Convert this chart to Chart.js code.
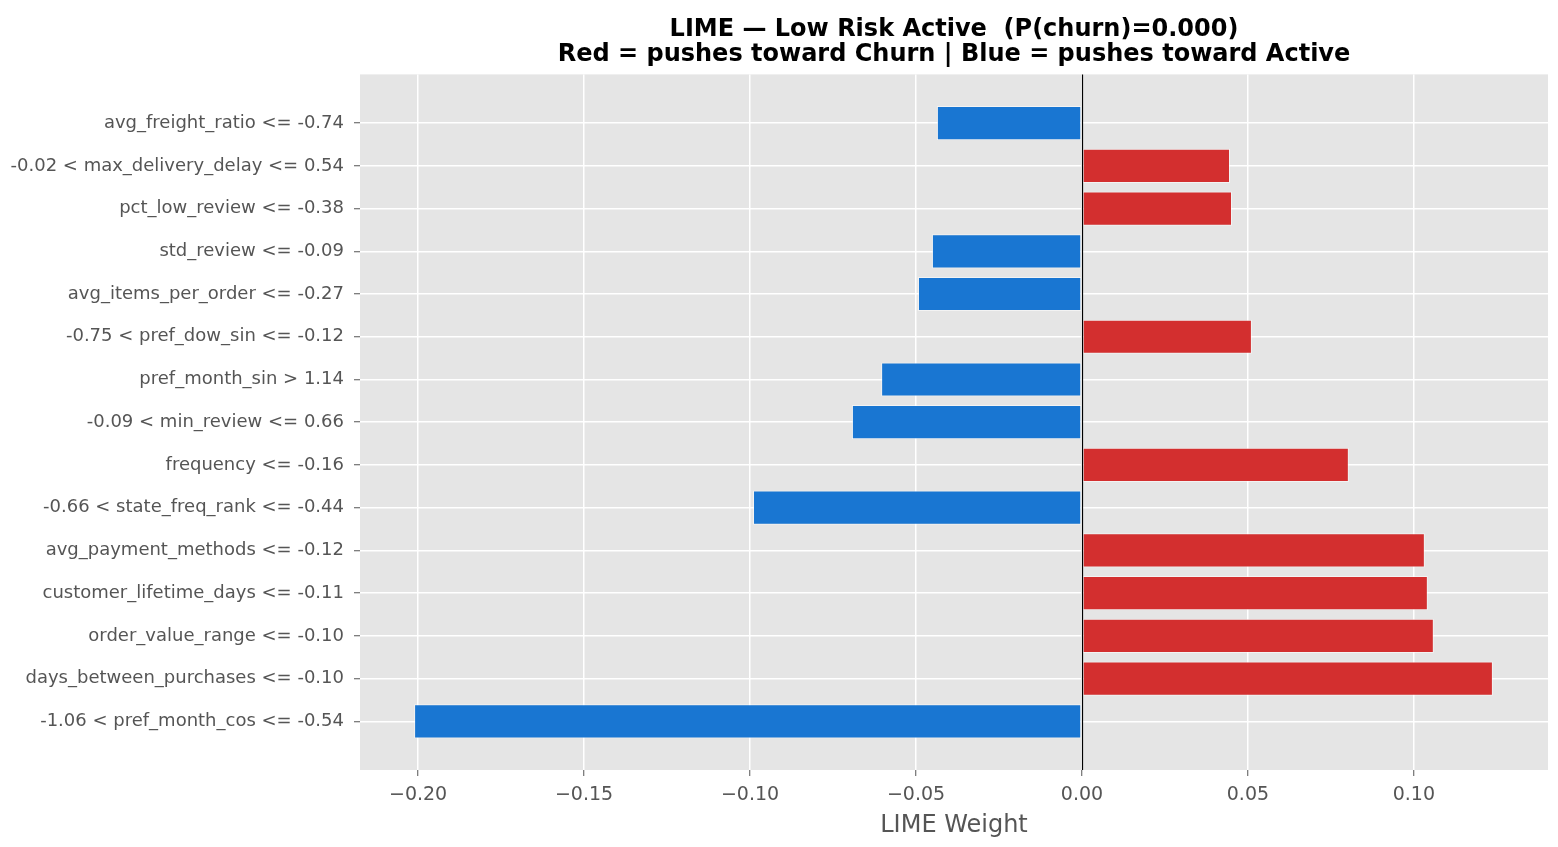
<!DOCTYPE html>
<html>
<head>
<meta charset="utf-8">
<script src="https://cdn.jsdelivr.net/npm/chart.js@4.4.1/dist/chart.umd.min.js"></script>
<style>
  html, body { margin: 0; padding: 0; background: #fff; }
  #wrap { width: 1558px; height: 847px; }
</style>
</head>
<body>
<div id="wrap"><canvas id="limeChart"></canvas></div>
<script>
/* LIME explanation — horizontal weight bars */

const features = [
    'avg_freight_ratio <= -0.74',
    '-0.02 < max_delivery_delay <= 0.54',
    'pct_low_review <= -0.38',
    'std_review <= -0.09',
    'avg_items_per_order <= -0.27',
    '-0.75 < pref_dow_sin <= -0.12',
    'pref_month_sin > 1.14',
    '-0.09 < min_review <= 0.66',
    'frequency <= -0.16',
    '-0.66 < state_freq_rank <= -0.44',
    'avg_payment_methods <= -0.12',
    'customer_lifetime_days <= -0.11',
    'order_value_range <= -0.10',
    'days_between_purchases <= -0.10',
    '-1.06 < pref_month_cos <= -0.54',
];

const weights = [
    -0.0437, 0.0446, 0.0452, -0.0452, -0.0494,
    0.0512, -0.0605, -0.0693, 0.0804, -0.0991,
    0.1033, 0.1042, 0.1060, 0.1238, -0.2012,
];

const xTicks = [-0.20, -0.15, -0.10, -0.05, 0.00, 0.05, 0.10];

const RED = '#D32F2F';
const BLUE = '#1976D2';
const FONT = "'DejaVu Sans', 'Liberation Sans', sans-serif";

const plotBg = {
    id: 'plotBg',
    beforeDraw(chart) {
        const a = chart.chartArea;
        const ctx = chart.ctx;
        ctx.save();
        ctx.fillStyle = '#E5E5E5';
        ctx.fillRect(a.left, a.top, a.right - a.left, a.bottom - a.top);
        ctx.restore();
    },
};

const zeroLine = {
    id: 'zeroLine',
    afterDatasetsDraw(chart) {
        const a = chart.chartArea;
        const x = Math.round(chart.scales.x.getPixelForValue(0)) + 0.5;
        const ctx = chart.ctx;
        ctx.save();
        ctx.strokeStyle = '#000';
        ctx.lineWidth = 1.2;
        ctx.beginPath();
        ctx.moveTo(x, a.top);
        ctx.lineTo(x, a.bottom);
        ctx.stroke();
        ctx.restore();
    },
};

new Chart(document.getElementById('limeChart'), {
    type: 'bar',
    data: {
        datasets: [{
            data: weights.map((w, i) => ({ x: w, y: i })),
            backgroundColor: weights.map(w => (w > 0 ? RED : BLUE)),
            borderColor: 'rgba(255,255,255,0.55)',
            borderWidth: 1,
            borderSkipped: false,
            barPercentage: 0.8,
            categoryPercentage: 1.0,
        }],
    },
    options: {
        indexAxis: 'y',
        responsive: true,
        maintainAspectRatio: false,
        animation: false,
        layout: { padding: { left: 0, right: 10, top: 0, bottom: 0 } },
        plugins: {
            legend: { display: false },
            tooltip: { enabled: false },
            title: {
                display: true,
                fullSize: false,
                text: ['LIME — Low Risk Active  (P(churn)=0.000)',
                       'Red = pushes toward Churn | Blue = pushes toward Active'],
                color: '#000',
                font: { family: FONT, size: 24, weight: 'bold', lineHeight: 1.05 },
                padding: { top: 17, bottom: 7 },
            },
        },
        scales: {
            x: {
                type: 'linear',
                min: -0.2175,
                max: 0.1404,
                afterBuildTicks(scale) {
                    scale.ticks = xTicks.map(v => ({ value: v }));
                },
                afterFit(scale) { scale.height = 77; },
                ticks: {
                    color: '#555555',
                    font: { family: FONT, size: 19 },
                    padding: 8,
                    callback: v => v.toFixed(2).replace('-', '\u2212'),
                },
                grid: {
                    color: '#FFFFFF',
                    lineWidth: 1.5,
                    drawTicks: true,
                    tickLength: 6,
                    tickColor: '#555555',
                    tickWidth: 1,
                },
                border: { display: false },
                title: {
                    display: true,
                    text: 'LIME Weight',
                    color: '#555555',
                    font: { family: FONT, size: 24 },
                    padding: { top: 0, bottom: 7 },
                },
            },
            y: {
                type: 'linear',
                reverse: true,
                offset: false,
                min: -1.14,
                max: features.length - 1 + 1.14,
                afterBuildTicks(scale) {
                    scale.ticks = features.map((_, i) => ({ value: i }));
                },
                afterFit(scale) { scale.width = 360; },
                ticks: {
                    color: '#555555',
                    font: { family: FONT, size: 18 },
                    padding: 10,
                    autoSkip: false,
                    callback: v => features[v],
                },
                grid: {
                    offset: false,
                    color: '#FFFFFF',
                    lineWidth: 1.5,
                    drawTicks: true,
                    tickLength: 6,
                    tickColor: '#555555',
                    tickWidth: 1,
                },
                border: { display: false },
            },
        },
    },
    plugins: [plotBg, zeroLine],
});
</script>
</body>
</html>
